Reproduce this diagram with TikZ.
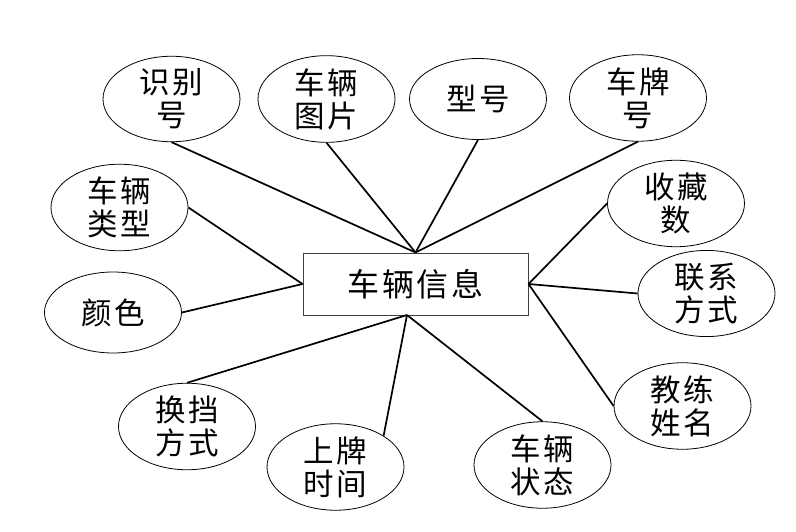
\documentclass[tikz,border=0pt]{standalone}
\usepackage{fontspec}
\usetikzlibrary{shapes.geometric}
\newfontfamily\cjk[LetterSpace=8]{Noto Sans CJK SC}
\begin{document}
\begin{tikzpicture}[x=1pt,y=-1pt,
  attr/.style={ellipse,draw,line width=0.8pt,minimum width=137pt,minimum height=81pt,
    inner sep=0pt,align=center,font=\cjk\fontsize{30.5}{33}\selectfont},
  ent/.style={rectangle,draw=black!75,line width=1pt,minimum width=225pt,
    minimum height=62pt,inner sep=0pt,font=\cjk\fontsize{32}{33}\selectfont},
  link/.style={line width=1.7pt}]
\fill[white] (0,0) rectangle (796,532);
\useasboundingbox (0,0) rectangle (796,532);

\node[ent] (e) at (415.5,284) {车辆信息};
\coordinate (eb) at (407,315);

\node[attr] (a1) at (171.5,99) {识别\\号};
\node[attr] (a2) at (326.5,99) {车辆\\图片};
\node[attr] (a3) at (478,99) {型号};
\node[attr] (a4) at (638,98) {车牌\\号};
\node[attr] (a5) at (676,203.5) {收藏\\数};
\node[attr] (a6) at (706.5,293.5) {联系\\方式};
\node[attr] (a7) at (682.5,406) {教练\\姓名};
\node[attr] (a8) at (119.5,207.5) {车辆\\类型};
\node[attr] (a9) at (113,312.5) {颜色};
\node[attr] (a10) at (187,426.5) {换挡\\方式};
\node[attr] (a11) at (335.5,467) {上牌\\时间};
\node[attr] (a12) at (542.5,465) {车辆\\状态};

\draw[link] (a1.south) -- (e.north);
\draw[link] (a2.south) -- (e.north);
\draw[link] (a3.south) -- (e.north);
\draw[link] (a4.south) -- (e.north);
\draw[link] (a5.west) -- (e.east);
\draw[link] (a6.west) -- (e.east);
\draw[link] (a7.west) -- (e.east);
\draw[link] (a8.east) -- (e.west);
\draw[link] (a9.east) -- (e.west);
\draw[link] (a10.north) -- (eb);
\draw[link] (a11.33) -- (eb);
\draw[link] (a12.north) -- (eb);
\end{tikzpicture}
\end{document}
